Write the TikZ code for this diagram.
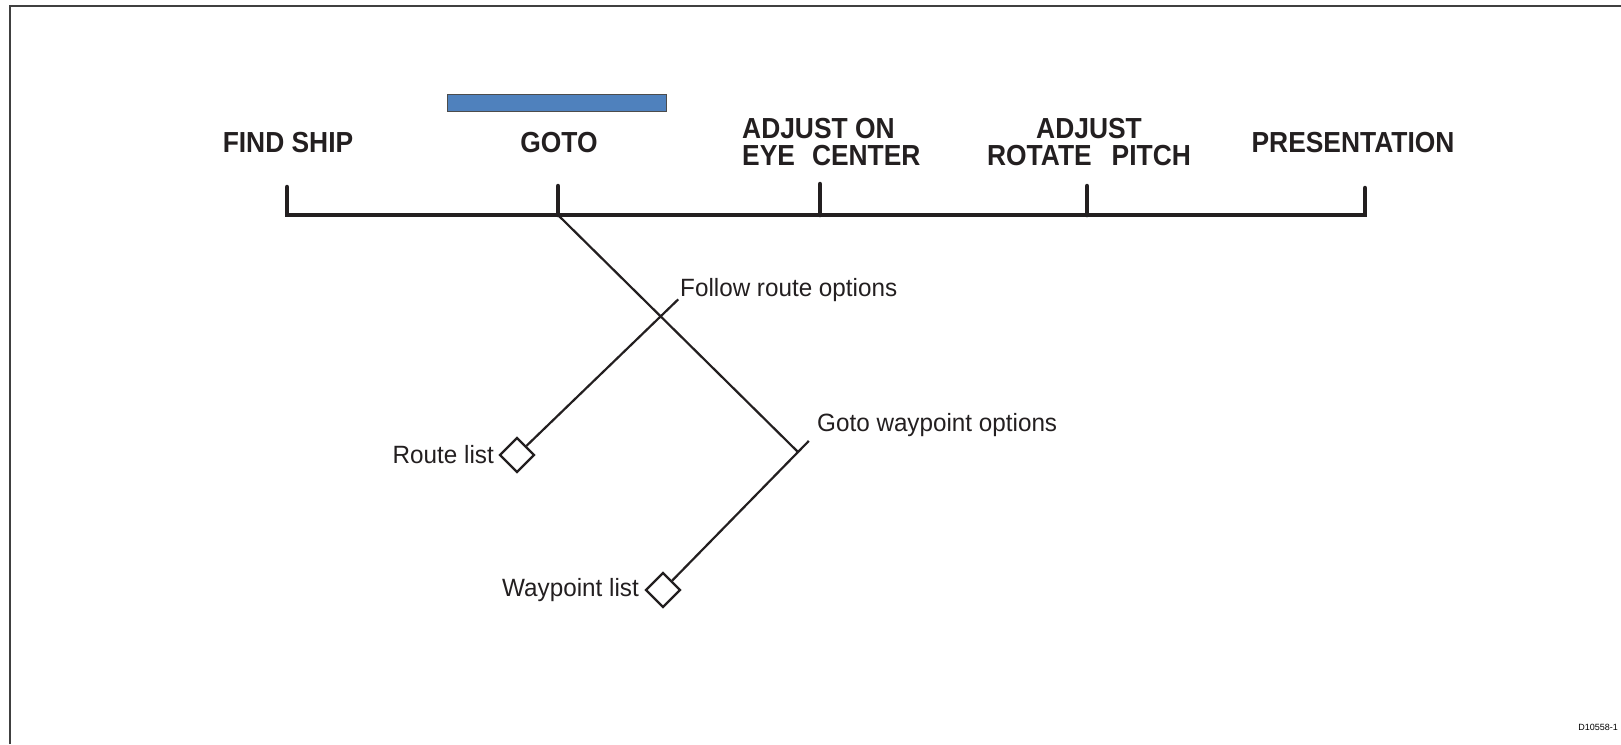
\documentclass[tikz,border=0pt]{standalone}
\usepackage{fontspec}
\setmainfont{Liberation Sans}
\newfontfamily\menufont{Liberation Sans}[FakeStretch=0.91]
\newfontfamily\optfont{Liberation Sans}[FakeStretch=0.97]
\usepackage{xcolor}
\usetikzlibrary{positioning, calc}
\definecolor{menublue}{HTML}{4F81BD}
\definecolor{rule}{HTML}{231F20}

\begin{document}
\begin{tikzpicture}[
  x=1pt, y=-1pt,
  menu/.style={font=\menufont\fontsize{29}{27}\selectfont\bfseries, align=center, inner sep=0pt, text=rule},
  opt/.style={font=\optfont\fontsize{25}{25}\selectfont, inner sep=0pt, text=rule},
  bar/.style={line width=4.5pt, draw=rule, line cap=round},
  link/.style={line width=2.2pt, draw=rule},
  leaf/.style={draw=rule, line width=2.2pt, minimum size=24pt, inner sep=0pt, rotate=45, fill=white}
]
\useasboundingbox (0,0) rectangle (1621,744);
% frame (top and left only)
\draw[line width=2pt, draw=black!75] (10,744) -- (10,6) -- (1621,6);

% menu bar
\node[draw=black!70, fill=menublue, minimum width=219pt, minimum height=17pt, inner sep=0pt] (hilite) at (557,103) {};
\coordinate (t1) at (287,215);
\coordinate (t2) at (558,215);
\coordinate (t3) at (820,215);
\coordinate (t4) at (1087,215);
\coordinate (t5) at (1365,215);
\draw[bar] (t1) ++(0,-28) -- (t1) -- (t5) -- ++(0,-27);
\foreach \t/\h in {t2/29, t3/31, t4/29}
  \draw[bar] (\t) -- ++(0,-\h);

\node[menu] (find) at (288,143) {FIND SHIP};
\node[menu] (goto) at (559,143) {GOTO};
\node[menu, align=left, anchor=west] (adjon) at (742,142) {ADJUST ON\\EYE\hspace{17pt}CENTER};
\node[menu] (adj) at (1089,142) {ADJUST\\ROTATE\hspace{20pt}PITCH};
\node[menu] (pres) at (1353,143) {PRESENTATION};

% goto sub-menus
\coordinate (follow) at (661,316);
\coordinate (wpt) at (798,452);
\node[leaf] (rlist) at (517,455) {};
\node[leaf] (wlist) at (663,590) {};
\draw[link] (t2) -- (wpt);
\draw[link] (rlist) -- ($(rlist)!1.12!(follow)$) coordinate (fend);
\draw[link] (wlist) -- ($(wlist)!1.08!(wpt)$) coordinate (wend);

\node[opt, anchor=west] (followlbl) at (680,290) {Follow route options};
\node[opt, anchor=west] (wptlbl) at (817,425) {Goto waypoint options};
\node[opt, anchor=east] (rlbl) at (494,455) {Route list};
\node[opt, anchor=east] (wlbl) at (639,590) {Waypoint list};

\node[font=\fontsize{9}{9}\selectfont, anchor=east, inner sep=0pt] (ref) at (1618,727) {D10558-1};
\end{tikzpicture}
\end{document}
